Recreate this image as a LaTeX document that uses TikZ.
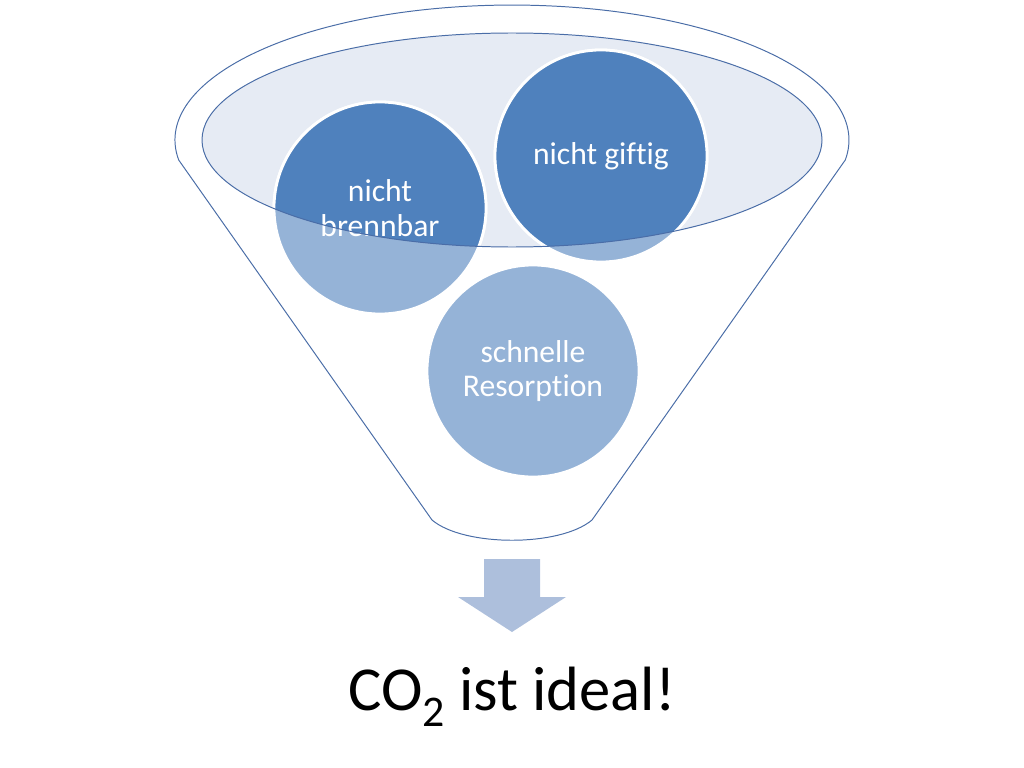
\documentclass[tikz,border=0pt]{standalone}
\usepackage{fontspec}
\setmainfont[Ligatures=NoCommon]{Carlito}
\usetikzlibrary{shapes.geometric}
\definecolor{darkbubble}{HTML}{4F81BD}
\definecolor{lightbubble}{HTML}{95B3D7}
\definecolor{rimfill}{HTML}{E6EBF4}
\definecolor{funnelline}{HTML}{4A6DA7}
\definecolor{arrowfill}{HTML}{ADBFDC}
\begin{document}
\begin{tikzpicture}[
       x=0.025cm, y=-0.025cm,
       funnel/.style={
         draw=funnelline,
         line width=0.7pt
       },
       bubble/.style={
         circle,
         draw=white,
         line width=2pt,
         minimum size=5.3cm,
         inner sep=0pt
       },
       bubbletext/.style={
         text=white,
         align=center,
         font=\fontsize{22.5}{24.5}\selectfont
       }
     ]

       \useasboundingbox (0,0) rectangle (1024,768);

       % funnel body
       \draw[funnel] (432,520) -- (178.7,160)
         arc[start angle=171.5, end angle=368.5, x radius=337, y radius=135]
         -- (592,520) .. controls (560,547) and (464,547) .. (432,520);
       \fill[rimfill] (512,140) ellipse [x radius=310, y radius=107];

       \node (brennbar) at (380,208) [bubble,fill=lightbubble]{};
       \node (giftig) at (601,156) [bubble,fill=lightbubble]{};
       \node (resorption) at (533,371) [bubble,fill=lightbubble]{};

       % inside the rim the bubbles are darker
       \begin{scope}
         \clip (512,140) ellipse [x radius=310, y radius=107];
         \node at (brennbar) [bubble,fill=darkbubble]{};
         \node at (giftig) [bubble,fill=darkbubble]{};
         \node at (resorption) [bubble,fill=darkbubble]{};
       \end{scope}

       \node (brennbartext) at (brennbar) [bubbletext]{nicht\\brennbar};
       \node (giftigtext) at (giftig) [bubbletext]{nicht giftig};
       \node (resorptiontext) at (resorption) [bubbletext]{schnelle\\Resorption};

       \draw[funnel] (512,140) ellipse [x radius=310, y radius=107];

       \fill[arrowfill] (484,559) -- (540,559) -- (540,597) -- (566,597)
         -- (512,632) -- (458,597) -- (484,597) -- cycle;

       \node (ideal) at (512,710) [anchor=base,font=\fontsize{44.5}{52}\selectfont]
         {CO\textsubscript{2} ist ideal!};

\end{tikzpicture}
\end{document}
